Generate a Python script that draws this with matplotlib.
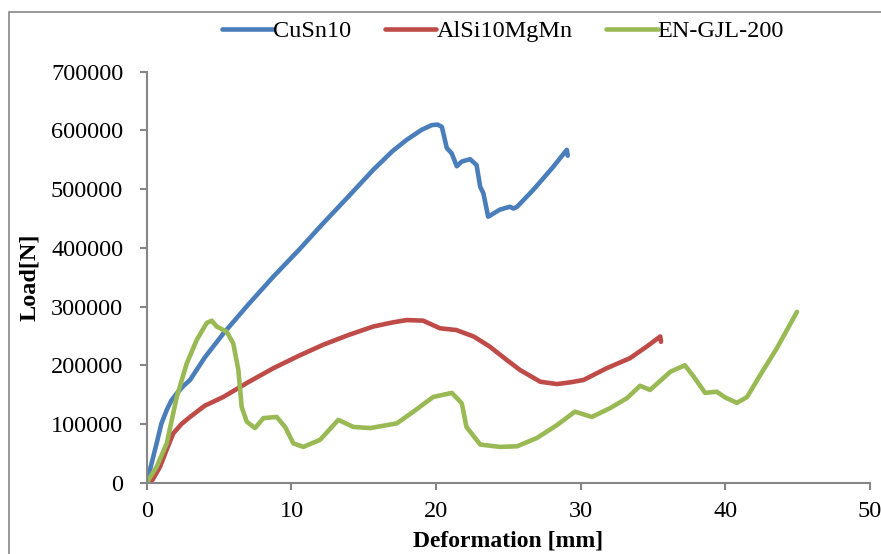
import matplotlib.pyplot as plt
from matplotlib.patches import Rectangle

# Load-deformation curves
cusn10_x = [0, 0.3, 0.68, 1.0, 1.38, 1.7, 2.07, 2.5, 2.99, 4.0, 5.29, 7.0, 8.75,
            10.5, 12.2, 14.0, 15.66, 17.0, 17.97, 19.0, 19.7, 20.1, 20.4,
            20.74, 21.08, 21.43, 21.78, 22.35, 22.8, 23.05, 23.27, 23.6, 24.4,
            25.1, 25.35, 25.6, 26.73, 28.1, 29.04, 29.1]
cusn10_y = [0, 30000, 67000, 100000, 124000, 140000, 152000, 164000, 175000,
            213000, 254000, 303000, 351000, 396000, 442000, 489000, 533000, 565000,
            584000, 601000, 609000, 610000, 606000, 570000, 561000, 539000, 547000,
            551000, 541000, 504000, 493000, 453000, 465000, 470000, 467000, 470000,
            499000, 538000, 567000, 557000]

alsi_x = [0, 0.4, 0.91, 1.4, 1.83, 2.4, 2.99, 4.0, 5.29, 7.0, 8.75, 10.5, 12.2,
          14.0, 15.66, 17.0, 17.97, 19.1, 20.27, 21.4, 22.6, 23.7, 24.89, 25.8,
          27.2, 28.35, 29.3, 30.2, 31.8, 33.4, 34.57, 35.5, 35.55]
alsi_y = [0, 5000, 27000, 58000, 84000, 100000, 112000, 131000, 146000, 171000,
          195000, 216000, 235000, 252000, 266000, 273000, 277000, 276000, 263000,
          260000, 249000, 232000, 209000, 192000, 172000, 168000, 171000, 175000,
          195000, 212000, 232000, 249000, 240000]

gjl_x = [0, 0.68, 1.38, 2.07, 2.76, 3.45, 4.14, 4.49, 4.83, 5.53, 5.98, 6.33,
         6.56, 6.91, 7.48, 8.06, 8.98, 9.56, 10.13, 10.82, 11.98, 13.24, 14.28,
         15.44, 17.28, 18.43, 19.8, 21.09, 21.78, 22.1, 23.05, 24.4, 25.6, 26.96,
         28.35, 29.6, 30.77, 32.03, 33.2, 34.1, 34.8, 36.2, 37.2, 37.8, 38.6,
         39.4, 40.0, 40.8, 41.5, 42.4, 43.56, 44.95]
gjl_y = [0, 27000, 67000, 146000, 203000, 243000, 272000, 276000, 266000, 257000,
         237000, 192000, 129000, 104000, 93000, 110000, 112000, 95000, 67000, 61000,
         73000, 107000, 95000, 93000, 101000, 121000, 146000, 153000, 135000, 95000,
         65000, 61000, 62000, 76000, 98000, 121000, 112000, 127000, 144000, 165000,
         158000, 189000, 200000, 181000, 153000, 155000, 145000, 136000, 146000,
         183000, 229000, 291000]

x_ticks = [0, 10, 20, 30, 40, 50]
y_ticks = [0, 100000, 200000, 300000, 400000, 500000, 600000, 700000]

plt.rcParams['font.family'] = ['Liberation Serif', 'DejaVu Serif']

fig = plt.figure(figsize=(8.81, 5.54), dpi=100)
ax = fig.add_axes([146.8 / 881, 71.3 / 554, (870 - 146.8) / 881, (482.7 - 71.7) / 554])

lw = 3.3
ax.plot(cusn10_x, cusn10_y, color='#4A7EBB', lw=lw, label='CuSn10', solid_capstyle='round')
ax.plot(alsi_x, alsi_y, color='#BE4B48', lw=lw, label='AlSi10MgMn', solid_capstyle='round')
ax.plot(gjl_x, gjl_y, color='#98B954', lw=lw, label='EN-GJL-200', solid_capstyle='round')

ax.set_xlim(0, 50)
ax.set_ylim(0, 700000)
ax.set_xticks(x_ticks)
ax.set_yticks(y_ticks)
ax.set_xticklabels([str(t) for t in x_ticks])
ax.set_yticklabels([str(t) for t in y_ticks])

for side in ['top', 'right']:
    ax.spines[side].set_visible(False)
for side in ['left', 'bottom']:
    ax.spines[side].set_color('#868686')
    ax.spines[side].set_linewidth(1.5)
ax.tick_params(axis='both', colors='#868686', width=1.5, length=5, labelsize=17.5,
               labelcolor='black')
ax.tick_params(axis='y', pad=12)
ax.tick_params(axis='x', pad=8)

# the reference crops this label at the bottom edge; keep it just inside instead
ax.set_xlabel('Deformation [mm]', fontsize=17, fontweight='bold', labelpad=6)
ax.set_ylabel('Load[N]', fontsize=17.5, fontweight='bold', labelpad=8)

ax.legend(loc='center', bbox_to_anchor=(503 / 881, 1 - 31 / 554),
          bbox_transform=fig.transFigure, ncol=3, frameon=False, fontsize=17.5,
          handlelength=2.1, handletextpad=0.0, columnspacing=1.4)

# outer chart frame, cropped at the right and bottom like the reference
fig.patches.append(Rectangle((9 / 881, -0.05), 1.1, 1 - 12 / 554 + 0.05,
                             transform=fig.transFigure, fill=False,
                             edgecolor='#868686', lw=1.2, clip_on=False))

fig.savefig('out.png', dpi=100)
